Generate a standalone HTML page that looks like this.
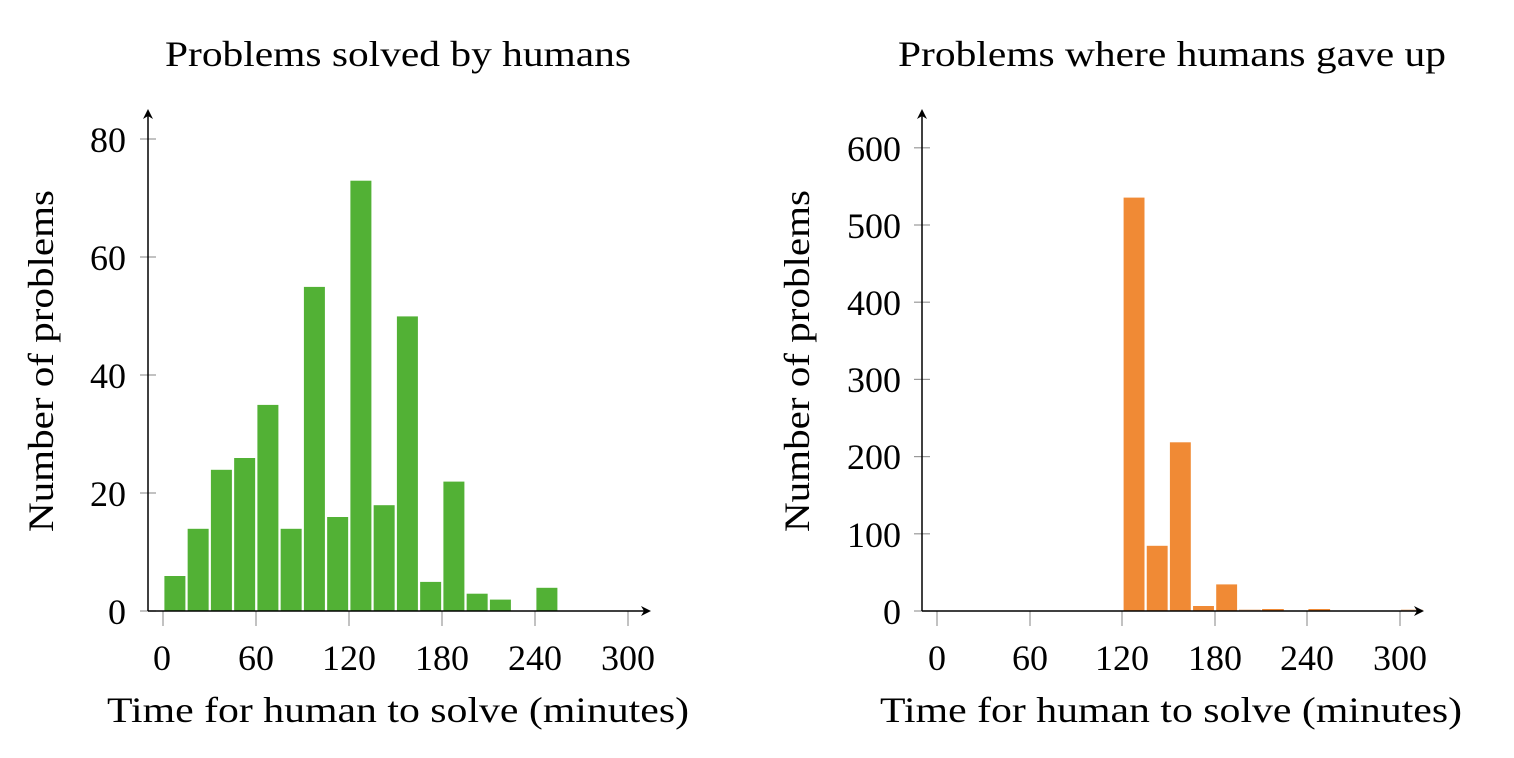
<!DOCTYPE html><html><head><style>body{margin:0;background:#fff}svg{display:block}text{font-family:"Liberation Serif",serif;fill:#000}</style></head><body>
<svg width="1514" height="758" viewBox="0 0 1514 758" xmlns="http://www.w3.org/2000/svg">
<g fill="#52b135" stroke="#fff" stroke-width="0.8">
<rect x="164" y="575.6" width="21.8" height="35.4"/>
<rect x="187.25" y="528.4" width="21.8" height="82.6"/>
<rect x="210.5" y="469.4" width="21.8" height="141.6"/>
<rect x="233.75" y="457.6" width="21.8" height="153.4"/>
<rect x="257" y="404.5" width="21.8" height="206.5"/>
<rect x="280.25" y="528.4" width="21.8" height="82.6"/>
<rect x="303.5" y="286.5" width="21.8" height="324.5"/>
<rect x="326.75" y="516.6" width="21.8" height="94.4"/>
<rect x="350" y="180.3" width="21.8" height="430.7"/>
<rect x="373.25" y="504.8" width="21.8" height="106.2"/>
<rect x="396.5" y="316" width="21.8" height="295"/>
<rect x="419.75" y="581.5" width="21.8" height="29.5"/>
<rect x="443" y="481.2" width="21.8" height="129.8"/>
<rect x="466.25" y="593.3" width="21.8" height="17.7"/>
<rect x="489.5" y="599.2" width="21.8" height="11.8"/>
<rect x="536" y="587.4" width="21.8" height="23.6"/>
</g>
<g stroke="#999" stroke-width="1.2">
<line x1="163" y1="611" x2="163" y2="626"/><line x1="256" y1="611" x2="256" y2="626"/><line x1="349" y1="611" x2="349" y2="626"/><line x1="442" y1="611" x2="442" y2="626"/><line x1="535" y1="611" x2="535" y2="626"/><line x1="628" y1="611" x2="628" y2="626"/>
<line x1="140" y1="611" x2="156" y2="611"/><line x1="140" y1="493" x2="156" y2="493"/><line x1="140" y1="375" x2="156" y2="375"/><line x1="140" y1="257" x2="156" y2="257"/><line x1="140" y1="139" x2="156" y2="139"/>
</g>
<g stroke="#000" stroke-width="1.5" fill="none"><line x1="148" y1="611" x2="646" y2="611"/><line x1="148" y1="611" x2="148" y2="114"/></g>
<path d="M651 611 L641 606 L644 611 L641 616Z M148 109 L143 119 L148 116 L153 119Z" fill="#000"/>
<g font-size="36" text-anchor="end"><text x="126" y="624">0</text><text x="126" y="506">20</text><text x="126" y="388">40</text><text x="126" y="270">60</text><text x="126" y="152">80</text></g>
<g font-size="36" text-anchor="middle"><text x="162" y="670">0</text><text x="256" y="670">60</text><text x="349" y="670">120</text><text x="442" y="670">180</text><text x="535" y="670">240</text><text x="628" y="670">300</text></g>
<text x="398" y="66" font-size="36" text-anchor="middle" textLength="466" lengthAdjust="spacingAndGlyphs">Problems solved by humans</text>
<text x="398" y="722" font-size="36" text-anchor="middle" textLength="582" lengthAdjust="spacingAndGlyphs">Time for human to solve (minutes)</text>
<text transform="translate(53,361) rotate(-90)" font-size="36" text-anchor="middle" textLength="342" lengthAdjust="spacingAndGlyphs">Number of problems</text>

<g fill="#f08a35" stroke="#fff" stroke-width="0.8">
<rect x="1123.2" y="197.2" width="21.7" height="413.8"/>
<rect x="1146.35" y="545.4" width="21.7" height="65.6"/>
<rect x="1169.5" y="441.9" width="21.7" height="169.1"/>
<rect x="1192.65" y="605.6" width="21.7" height="5.4"/>
<rect x="1215.8" y="584" width="21.7" height="27"/>
<rect x="1238.95" y="609.5" width="21.7" height="1.5" stroke="none" fill="#e8b890"/>
<rect x="1262.1" y="609" width="21.7" height="2" stroke="none"/>
<rect x="1308.4" y="609" width="21.7" height="2" stroke="none"/>
<rect x="1401" y="609.5" width="21.7" height="1.5" stroke="none" fill="#e8b890"/>
</g>
<g stroke="#999" stroke-width="1.2">
<line x1="937" y1="611" x2="937" y2="626"/><line x1="1030" y1="611" x2="1030" y2="626"/><line x1="1122" y1="611" x2="1122" y2="626"/><line x1="1215" y1="611" x2="1215" y2="626"/><line x1="1307" y1="611" x2="1307" y2="626"/><line x1="1400" y1="611" x2="1400" y2="626"/>
<line x1="914" y1="611" x2="930" y2="611"/><line x1="914" y1="533.8" x2="930" y2="533.8"/><line x1="914" y1="456.6" x2="930" y2="456.6"/><line x1="914" y1="379.4" x2="930" y2="379.4"/><line x1="914" y1="302.2" x2="930" y2="302.2"/><line x1="914" y1="225" x2="930" y2="225"/><line x1="914" y1="147.8" x2="930" y2="147.8"/>
</g>
<g stroke="#000" stroke-width="1.5" fill="none"><line x1="922" y1="611" x2="1419" y2="611"/><line x1="922" y1="611" x2="922" y2="114"/></g>
<path d="M1424 611 L1414 606 L1417 611 L1414 616Z M922 109 L917 119 L922 116 L927 119Z" fill="#000"/>
<g font-size="36" text-anchor="end"><text x="901" y="624">0</text><text x="901" y="547">100</text><text x="901" y="469">200</text><text x="901" y="392">300</text><text x="901" y="315">400</text><text x="901" y="238">500</text><text x="901" y="161">600</text></g>
<g font-size="36" text-anchor="middle"><text x="937" y="670">0</text><text x="1030" y="670">60</text><text x="1122" y="670">120</text><text x="1215" y="670">180</text><text x="1307" y="670">240</text><text x="1400" y="670">300</text></g>
<text x="1172" y="66" font-size="36" text-anchor="middle" textLength="548" lengthAdjust="spacingAndGlyphs">Problems where humans gave up</text>
<text x="1171" y="722" font-size="36" text-anchor="middle" textLength="582" lengthAdjust="spacingAndGlyphs">Time for human to solve (minutes)</text>
<text transform="translate(809,361) rotate(-90)" font-size="36" text-anchor="middle" textLength="342" lengthAdjust="spacingAndGlyphs">Number of problems</text>
</svg></body></html>
